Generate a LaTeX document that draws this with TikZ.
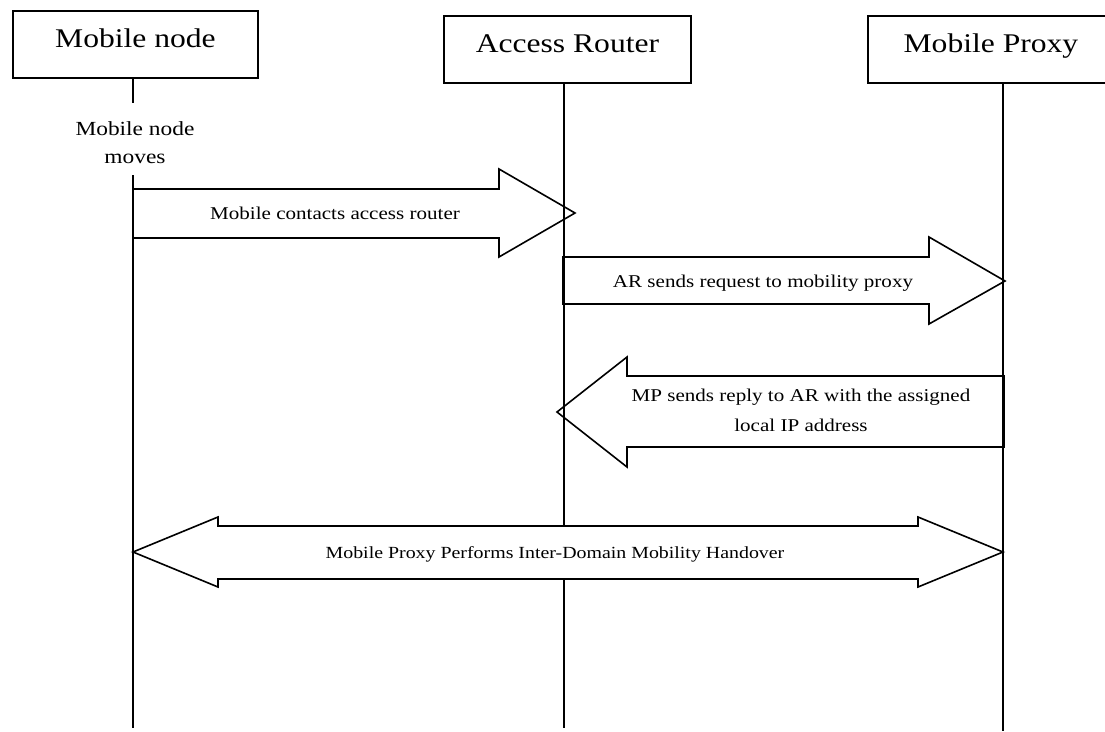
\documentclass[tikz,border=0pt]{standalone}
\usepackage{fontspec}
\setmainfont{Liberation Serif}[FakeStretch=1.17]
\begin{document}
\begin{tikzpicture}[x=1pt,y=-1pt,
  boxst/.style={draw,line width=1.9pt,inner sep=0pt,text height=37pt,text depth=30pt,
    minimum width=246pt,anchor=north west,font=\fontsize{27}{32}\selectfont},
  life/.style={line width=1.6pt},
  blockarrow/.style={draw,line width=1.6pt,fill=white,line join=miter},
  lbl/.style={font=\fontsize{18}{30}\selectfont,inner sep=0pt,align=center,anchor=base}]
\useasboundingbox (0,0) rectangle (1105,731);

% participants
\node[boxst,minimum width=245pt] (mn) at (12,10) {Mobile node};
\node[boxst,minimum width=247pt] (ar) at (443,15) {Access Router};
\node[boxst] (mp) at (867,15) {Mobile Proxy};

% lifeline coordinates
\coordinate (mnTop) at (133,77);
\coordinate (mnGapA) at (133,103);
\coordinate (mnGapB) at (133,175);
\coordinate (mnEnd) at (133,728);
\coordinate (arTop) at (564,82);
\coordinate (arEnd) at (564,728);
\coordinate (mpTop) at (1003,82);
\coordinate (mpEnd) at (1003,731);

% message arrows
\draw[blockarrow] (133,189) -- (499,189) -- (499,169) -- (575,213) -- (499,257) -- (499,238) -- (133,238) -- cycle;
\draw[blockarrow] (563,257) -- (929,257) -- (929,237) -- (1005,281) -- (929,324) -- (929,304) -- (563,304) -- cycle;
\draw[blockarrow] (1004,376) -- (627,376) -- (627,357) -- (557,412) -- (627,467) -- (627,447) -- (1004,447) -- cycle;

% lifelines
\draw[life] (mnTop) -- (mnGapA);
\draw[life] (mnGapB) -- (mnEnd);
\draw[life] (arTop) -- (arEnd);
\draw[life] (mpTop) -- (mpEnd);

% handover double arrow
\draw[blockarrow] (133,552) -- (218,517) -- (218,526) -- (918,526) -- (918,517) -- (1003,552)
  -- (918,587) -- (918,579) -- (218,579) -- (218,587) -- cycle;

% labels
\node[lbl,font=\fontsize{20}{28}\selectfont] (moves) at (135,163) {Mobile node\\moves};
\node[lbl] (t1) at (335,219) {Mobile contacts access router};
\node[lbl] (t2) at (763,287) {AR sends request to mobility proxy};
\node[lbl] (t3) at (801,431) {MP sends reply to AR with the assigned\\local IP address};
\node[lbl,font=\fontsize{17}{20}\selectfont] (t4) at (555,558) {Mobile Proxy Performs Inter-Domain Mobility Handover};
\end{tikzpicture}
\end{document}
